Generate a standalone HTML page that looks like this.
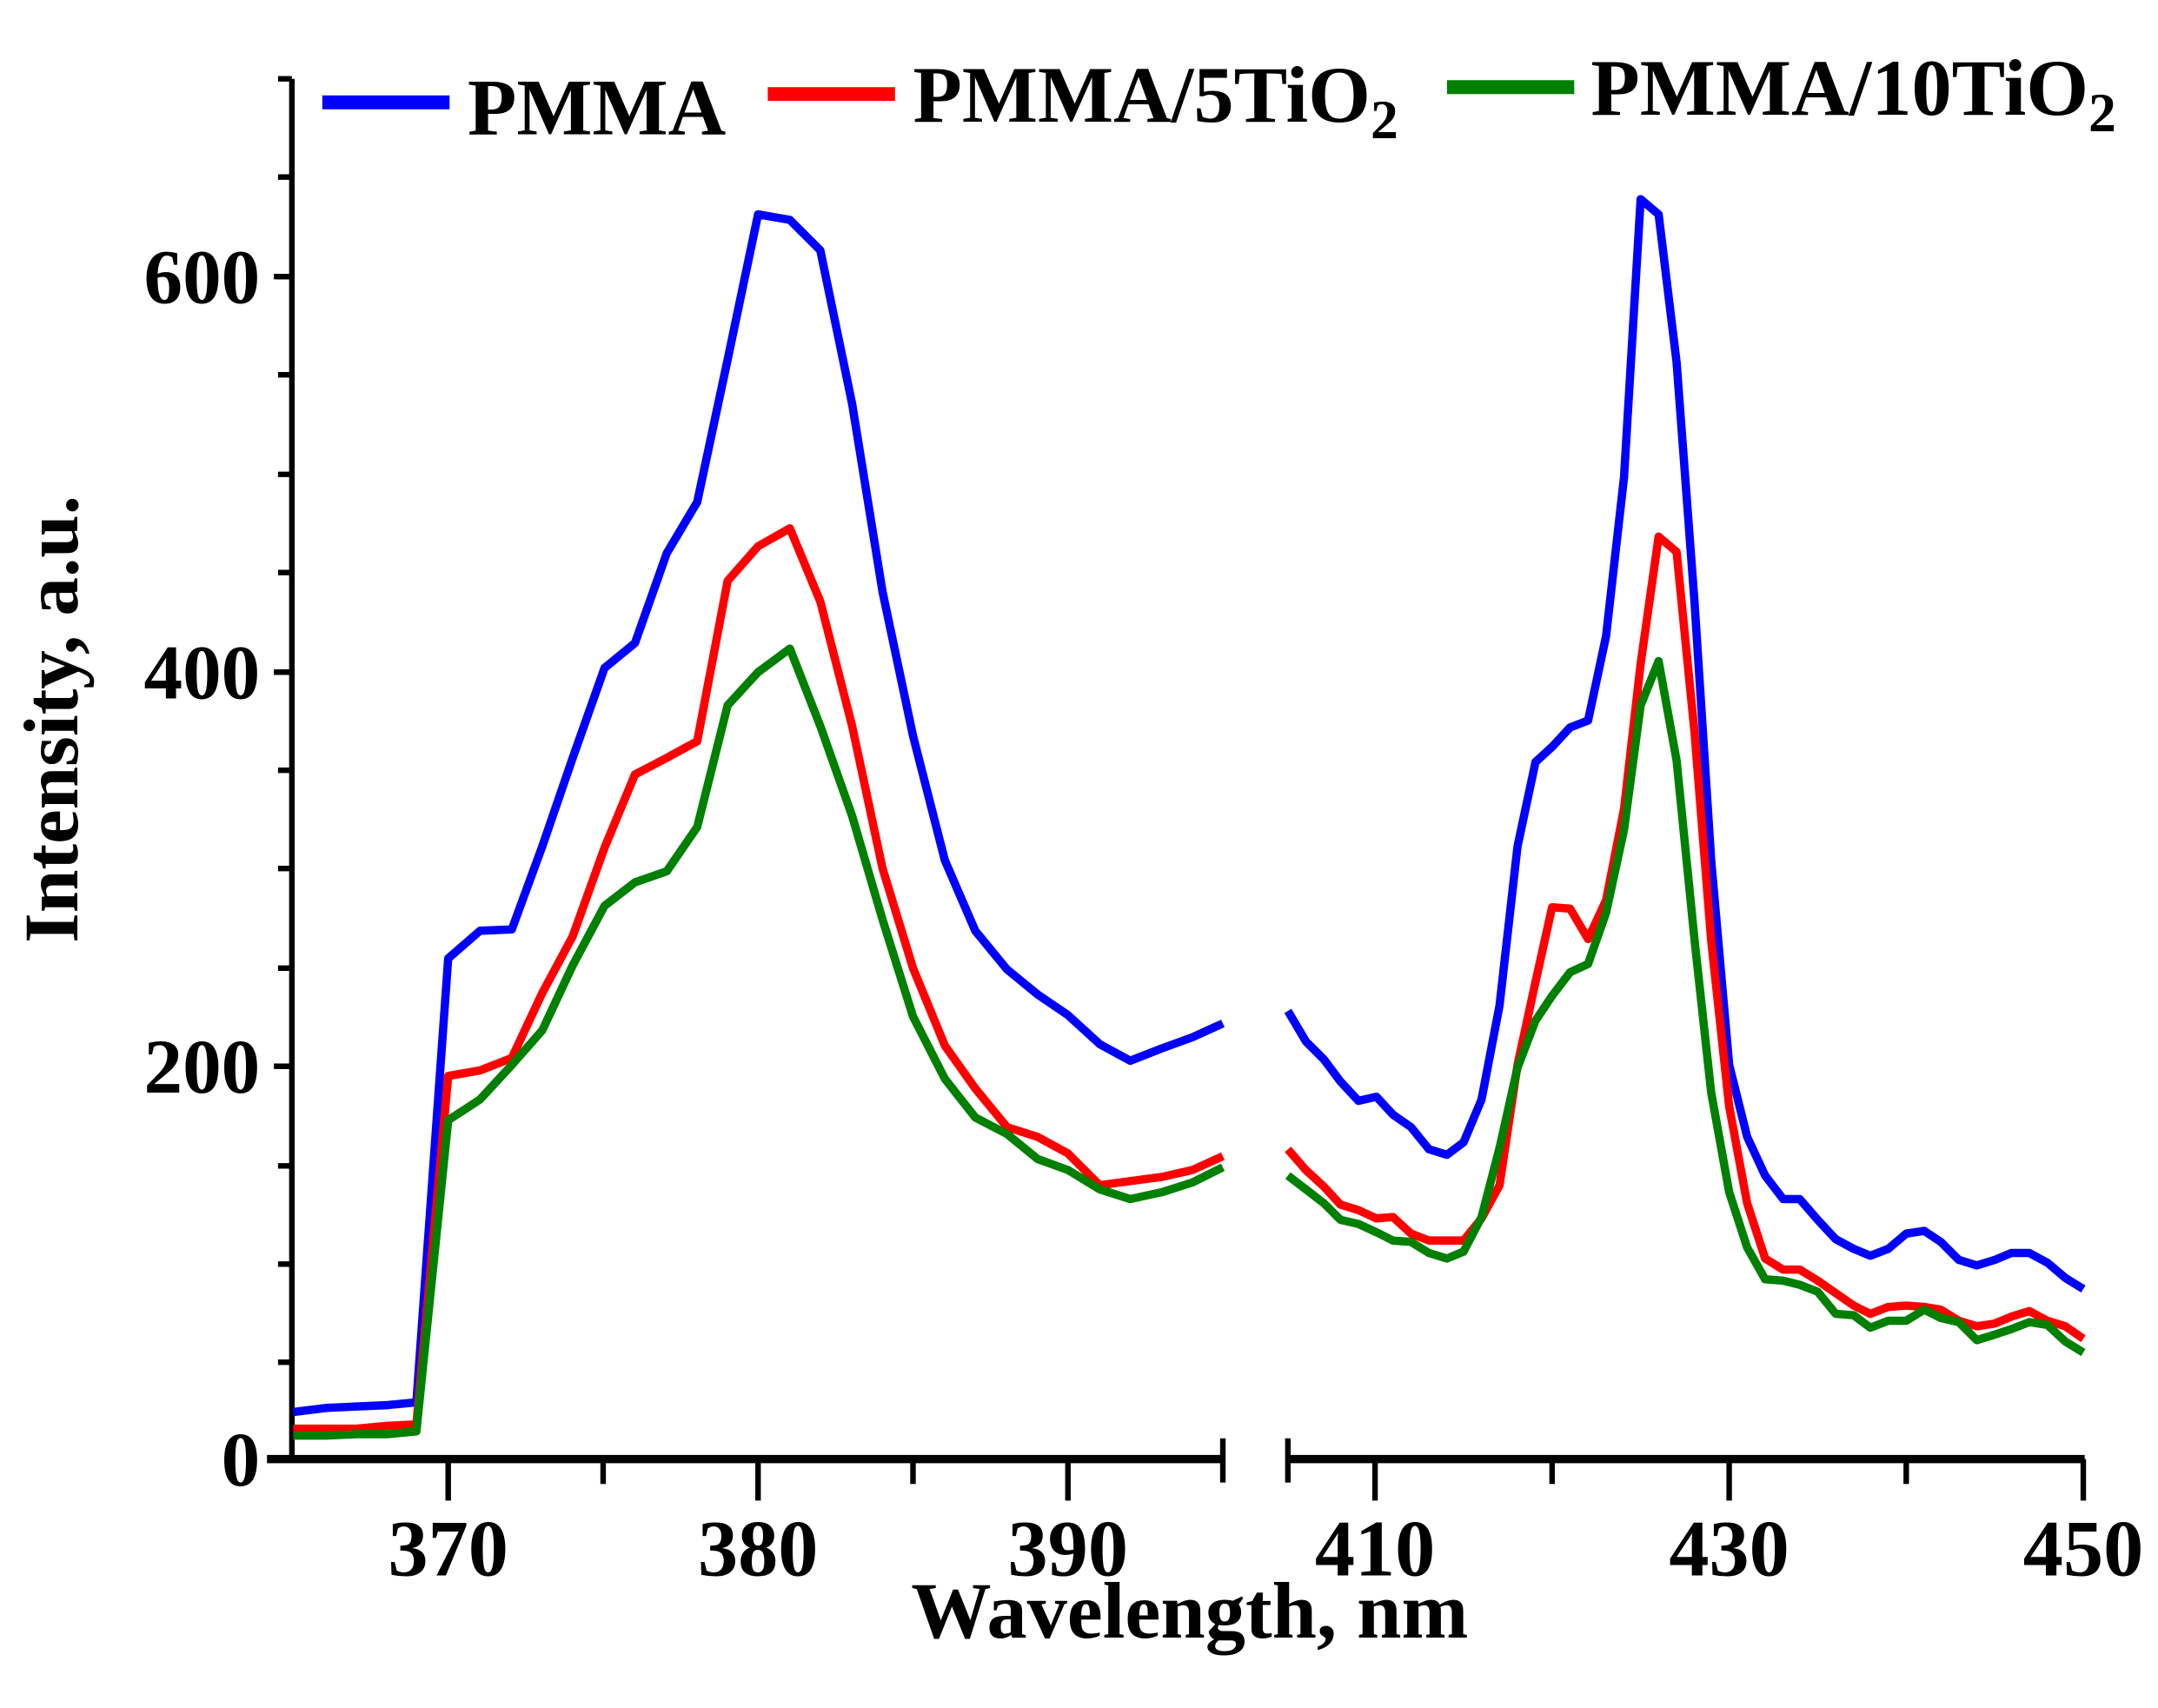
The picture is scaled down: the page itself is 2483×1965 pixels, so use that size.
<!DOCTYPE html>
<html><head><meta charset="utf-8"><style>html,body{margin:0;padding:0;background:#fff}svg{display:block}</style></head>
<body>
<svg width="2483" height="1965" viewBox="0 0 1560 1235" preserveAspectRatio="none" xmlns="http://www.w3.org/2000/svg" font-family="Liberation Serif, serif" font-weight="bold">
<rect width="1560" height="1235" fill="#fff"/>
<g stroke="#000" stroke-width="4" fill="none">
<line x1="211" y1="57" x2="211" y2="1057"/>
<line x1="193" y1="1055" x2="884" y2="1055" stroke-width="6"/>
<line x1="931" y1="1055" x2="1507" y2="1055" stroke-width="6"/>
<line x1="884" y1="1040" x2="884" y2="1072"/>
<line x1="931" y1="1040" x2="931" y2="1072"/>
<path d="M324 1055V1085M548 1055V1085M772 1055V1085M436 1055V1073M660 1055V1073M994 1055V1085M1250 1055V1085M1506 1055V1085M1122 1055V1073M1378 1055V1073"/>
<path d="M201 57H211M201 128H211M201 200H211M201 271H211M201 343H211M201 414H211M201 486H211M201 557H211M201 628H211M201 700H211M201 771H211M201 843H211M201 914H211M201 985H211"/>
<path d="M198 200H211M198 486H211M198 771H211"/>
</g>
<g font-size="56" text-anchor="end">
<text x="188" y="219">600</text><text x="188" y="505">400</text><text x="188" y="790">200</text><text x="188" y="1074">0</text>
</g>
<g font-size="58" text-anchor="middle">
<text x="324" y="1139">370</text><text x="548" y="1139">380</text><text x="772" y="1139">390</text>
<text x="994" y="1139">410</text><text x="1250" y="1139">430</text><text x="1506" y="1139">450</text>
</g>
<text x="860" y="1184" font-size="58" text-anchor="middle">Wavelength, nm</text>
<text transform="translate(56,520) rotate(-90)" font-size="56" text-anchor="middle">Intensity, a.u.</text>
<g stroke-width="6" fill="none" stroke-linejoin="round">
<line x1="233" y1="74" x2="325" y2="74" stroke="#0000ff" stroke-width="10"/>
<line x1="555" y1="68" x2="647" y2="68" stroke="#ff0000" stroke-width="10"/>
<line x1="1046" y1="63" x2="1138" y2="63" stroke="#008000" stroke-width="10"/>
<polyline stroke="#0000ff" points="212,1021 236,1018 258,1017 280,1016 301,1014 324,693 347,673 370,672 392,612 414,548 437,483 459,465 482,400 504,363 526,260 548,155 571,159 593,181 616,292 638,428 660,532 683,622 705,673 728,701 750,719 772,734 795,755 817,767 840,758 862,750 884,740"/>
<polyline stroke="#0000ff" points="931,731 944,753 957,766 969,782 982,796 995,793 1007,806 1020,815 1033,831 1046,835 1058,826 1071,795 1084,727 1097,612 1110,551 1122,540 1135,526 1148,521 1161,460 1174,345 1186,144 1199,155 1212,262 1225,436 1237,622 1250,770 1263,822 1276,850 1289,867 1301,867 1314,882 1327,896 1340,903 1352,908 1365,903 1378,892 1391,890 1403,898 1416,911 1429,915 1442,911 1454,906 1467,906 1480,913 1493,924 1506,932"/>
<polyline stroke="#ff0000" points="212,1033 236,1033 258,1033 280,1031 301,1030 324,778 347,774 370,765 392,718 414,677 437,613 459,560 482,548 504,536 526,420 548,395 571,382 593,435 616,525 638,628 660,700 683,756 705,787 728,815 750,822 772,834 795,857 817,854 840,851 862,846 884,836"/>
<polyline stroke="#ff0000" points="931,831 944,846 957,858 969,871 982,875 995,881 1007,880 1020,892 1033,897 1046,897 1058,897 1071,881 1084,857 1097,770 1110,710 1122,656 1135,657 1148,679 1161,651 1174,585 1186,480 1199,388 1212,399 1225,530 1237,680 1250,800 1263,870 1276,910 1289,918 1301,918 1314,926 1327,935 1340,944 1352,950 1365,945 1378,944 1391,945 1403,947 1416,955 1429,959 1442,957 1454,952 1467,948 1480,955 1493,959 1506,968"/>
<polyline stroke="#008000" points="212,1038 236,1038 258,1037 280,1037 301,1035 324,810 347,795 370,770 392,745 414,698 437,655 459,638 482,630 504,598 526,510 548,486 571,469 593,525 616,590 638,665 660,735 683,780 705,808 728,820 750,838 772,846 795,860 817,867 840,862 862,855 884,844"/>
<polyline stroke="#008000" points="931,850 944,860 957,870 969,882 982,885 995,891 1007,897 1020,898 1033,906 1046,910 1058,905 1071,880 1084,830 1097,772 1110,738 1122,720 1135,703 1148,697 1161,660 1174,600 1186,510 1199,478 1212,550 1225,680 1237,790 1250,862 1263,902 1276,925 1289,926 1301,929 1314,934 1327,950 1340,951 1352,960 1365,955 1378,955 1391,947 1403,953 1416,956 1429,969 1442,965 1454,961 1467,956 1480,958 1493,970 1506,978"/>
</g>
<g font-size="58">
<text x="338" y="97">PMMA</text>
<text x="660" y="88">PMMA/5TiO<tspan font-size="40" dy="12">2</tspan></text>
<text x="1150" y="83">PMMA/10TiO<tspan font-size="40" dy="12">2</tspan></text>
</g>
</svg>
</body></html>
